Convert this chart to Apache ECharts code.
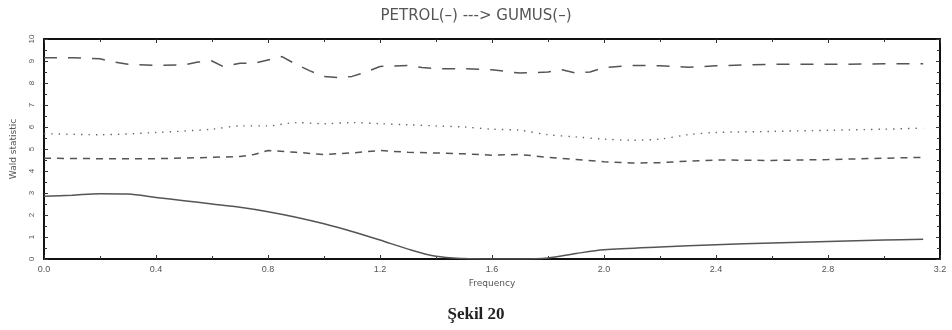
<!DOCTYPE html>
<html>
<head>
<meta charset="utf-8">
<script src="https://cdn.jsdelivr.net/npm/echarts@6/dist/echarts.min.js"></script>
<style>
  html, body { margin: 0; padding: 0; background: #fff; }
  #chart { width: 952px; height: 330px; }
</style>
</head>
<body>
<div id="chart"></div>
<script>
// solid line
var freqSolid = [0, 0.1, 0.2, 0.3, 0.4, 0.5, 0.6, 0.7, 0.8, 0.9, 1.0, 1.1, 1.2, 1.3, 1.4, 1.5, 1.6, 1.7, 1.8, 1.9, 2.0, 2.2, 2.4, 2.6, 2.8, 3.0, 3.14];
var solidVals = [2.85, 2.9, 2.97, 2.95, 2.8, 2.65, 2.5, 2.35, 2.15, 1.9, 1.6, 1.25, 0.86, 0.45, 0.12, 0.02, 0.0, 0.0, 0.05, 0.25, 0.42, 0.55, 0.65, 0.73, 0.8, 0.86, 0.9];

// long dashes (top)
var freqLong = [0, 0.1, 0.2, 0.25, 0.3, 0.4, 0.5, 0.55, 0.6, 0.64, 0.7, 0.75, 0.85, 0.9, 0.95, 1.0, 1.05, 1.1, 1.15, 1.2, 1.3, 1.35, 1.4, 1.5, 1.6, 1.7, 1.8, 1.85, 1.9, 1.95, 2.0, 2.1, 2.2, 2.3, 2.4, 2.5, 2.6, 2.8, 3.0, 3.14];
var longVals = [9.15, 9.15, 9.1, 8.95, 8.85, 8.8, 8.82, 8.95, 9.0, 8.75, 8.9, 8.9, 9.2, 8.85, 8.55, 8.3, 8.25, 8.3, 8.5, 8.75, 8.8, 8.7, 8.65, 8.65, 8.6, 8.45, 8.5, 8.6, 8.45, 8.5, 8.7, 8.8, 8.78, 8.72, 8.78, 8.82, 8.85, 8.85, 8.87, 8.87];

// dotted
var freqDot = [0, 0.2, 0.4, 0.6, 0.7, 0.8, 0.9, 1.0, 1.1, 1.2, 1.3, 1.4, 1.5, 1.6, 1.7, 1.8, 1.9, 2.0, 2.1, 2.2, 2.3, 2.4, 2.6, 2.8, 3.0, 3.14];
var dotVals = [5.7, 5.65, 5.75, 5.9, 6.05, 6.05, 6.2, 6.15, 6.2, 6.15, 6.1, 6.05, 6.0, 5.9, 5.85, 5.65, 5.55, 5.45, 5.4, 5.45, 5.65, 5.75, 5.8, 5.85, 5.9, 5.95];

// short dashes
var freqShort = [0, 0.2, 0.4, 0.6, 0.7, 0.75, 0.8, 0.9, 1.0, 1.1, 1.2, 1.3, 1.4, 1.5, 1.6, 1.7, 1.8, 1.9, 2.0, 2.1, 2.2, 2.3, 2.4, 2.6, 2.8, 3.0, 3.14];
var shortVals = [4.58, 4.56, 4.56, 4.62, 4.66, 4.75, 4.93, 4.85, 4.75, 4.82, 4.93, 4.85, 4.82, 4.78, 4.72, 4.75, 4.62, 4.52, 4.42, 4.36, 4.38, 4.45, 4.5, 4.48, 4.52, 4.58, 4.62];

function pairs(xs, ys) {
    var out = [];
    for (var i = 0; i < xs.length; i++) {
        out.push([xs[i], ys[i]]);
    }
    return out;
}

var chart = echarts.init(document.getElementById('chart'));
var frame = { show: true, onZero: false, lineStyle: { color: '#111', width: 2 } };
var ticksIn = { show: true, inside: true, length: 4, lineStyle: { color: '#333' } };

var option = {
    animation: false,
    backgroundColor: '#fff',
    title: [{
        text: 'PETROL(–) ---> GUMUS(–)',
        left: 'center',
        top: 4,
        textStyle: { fontFamily: 'DejaVu Sans', fontSize: 15, fontWeight: 'normal', color: '#555' }
    }, {
        text: 'Şekil 20',
        left: 'center',
        top: 301,
        textStyle: { fontFamily: 'Liberation Serif', fontSize: 17, fontWeight: 'bold', color: '#222' }
    }],
    grid: { left: 44, right: 12, top: 39, bottom: 71 },
    xAxis: [{
        type: 'value',
        min: 0,
        max: 3.2,
        interval: 0.4,
        name: 'Frequency',
        nameLocation: 'middle',
        nameGap: 20,
        nameTextStyle: { fontSize: 9, color: '#555', fontFamily: 'DejaVu Sans' },
        axisLine: frame,
        axisTick: ticksIn,
        minorTick: { show: true, splitNumber: 2, length: 3, lineStyle: { color: '#333' } },
        axisLabel: {
            fontSize: 9, color: '#555', margin: 6,
            formatter: function (v) { return v.toFixed(1); }
        },
        splitLine: { show: false }
    }, {
        type: 'value',
        position: 'top',
        min: 0,
        max: 3.2,
        interval: 0.4,
        axisLine: frame,
        axisTick: ticksIn,
        minorTick: { show: true, splitNumber: 2, length: 3, lineStyle: { color: '#333' } },
        axisLabel: { show: false },
        splitLine: { show: false }
    }],
    yAxis: [{
        type: 'value',
        min: 0,
        max: 10,
        interval: 1,
        name: 'Wald statistic',
        nameLocation: 'middle',
        nameGap: 26,
        nameTextStyle: { fontSize: 9, color: '#555', fontFamily: 'DejaVu Sans' },
        axisLine: frame,
        axisTick: ticksIn,
        minorTick: { show: true, splitNumber: 2, length: 3, lineStyle: { color: '#333' } },
        axisLabel: { fontSize: 8, color: '#555', rotate: 90, margin: 8 },
        splitLine: { show: false }
    }, {
        type: 'value',
        position: 'right',
        min: 0,
        max: 10,
        interval: 1,
        axisLine: frame,
        axisTick: ticksIn,
        minorTick: { show: true, splitNumber: 2, length: 3, lineStyle: { color: '#333' } },
        axisLabel: { show: false },
        splitLine: { show: false }
    }],
    series: [{
        type: 'line',
        data: pairs(freqSolid, solidVals),
        showSymbol: false,
        smooth: 0.3,
        lineStyle: { color: '#555', width: 1.5, type: 'solid' }
    }, {
        type: 'line',
        data: pairs(freqLong, longVals),
        showSymbol: false,
        lineStyle: { color: '#555', width: 1.5, type: [13, 11] }
    }, {
        type: 'line',
        data: pairs(freqDot, dotVals),
        showSymbol: false,
        smooth: 0.3,
        lineStyle: { color: '#666', width: 1.4, type: [1.4, 6] }
    }, {
        type: 'line',
        data: pairs(freqShort, shortVals),
        showSymbol: false,
        lineStyle: { color: '#555', width: 1.5, type: [7, 6] }
    }]
};
chart.setOption(option);
</script>
</body>
</html>
